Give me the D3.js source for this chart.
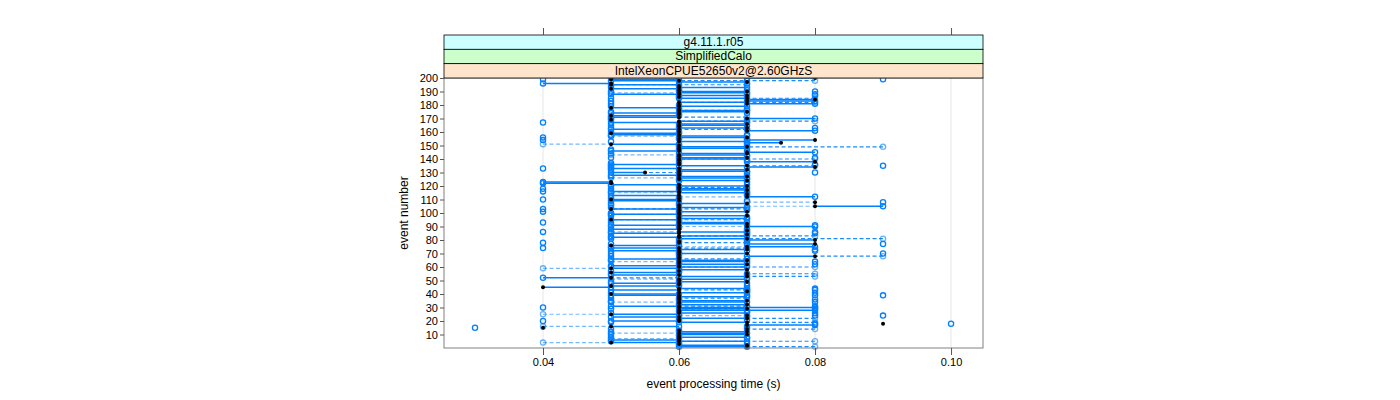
<!DOCTYPE html>
<html><head><meta charset="utf-8">
<script src="https://cdn.jsdelivr.net/npm/d3@7"></script>
<style>body{margin:0;background:#fff}svg text{font-family:"Liberation Sans",Arial,Helvetica,sans-serif}</style>
</head><body><svg id="c" width="1400" height="400"></svg>
<script>
const stripLabels = ["g4.11.1.r05", "SimplifiedCalo", "IntelXeonCPUE52650v2@2.60GHzS"];
const xTicks = [0.04, 0.06, 0.08, 0.10];
const yTicks = [10,20,30,40,50,60,70,80,90,100,110,120,130,140,150,160,170,180,190,200];
// event number i+1 -> processing time (s) of each run
const run1 = [.06,.06,.06,.06,.07,.05,.06,.07,.06,.06, .07,.06,.06,.07,null,.06,.08,null,.06,.05,
.06,.06,.05,.07,.06,.07,.06,.08,.06,.08, .05,.06,.06,.07,.06,.06,.06,.07,.05,.06,
.07,.07,.05,.07,.05,.06,.06,.05,.06,.06, .07,.04,.06,.05,.07,.06,.06,.06,.06,.07,
.05,.06,.06,.07,.06,.05,.06,.07,.06,.06, .06,.05,.06,.05,.08,.06,.07,.06,.06,.07,
.06,.05,.07,.07,.05,.07,.07,.05,.06,.08, .05,.06,.07,.06,.06,.07,.06,.06,.05,.06,
.06,.06,.06,.07,.09,.06,.06,null,.05,.06, .06,.08,.05,.07,.07,.05,.06,.07,.06,.06,
.05,.04,.04,.06,.06,.07,.06,.05,.06,.05, .07,.06,.05,.07,.06,.05,.06,.07,.06,.07,
.06,.06,.07,.06,.08,.05,.06,.07,.06,.06, .06,.07,.07,.07,.06,.06,.07,.05,.06,.06,
.08,.05,.06,.06,.07,.06,.05,.07,.05,.08, .05,.06,.06,.05,.06,.07,.06,.06,.07,.06,
.08,.07,.08,.07,.06,.06,.06,.05,.07,.06, .06,.06,.07,.06,.06,.04,.06,.05,.06,.07];
const run2 = [.07,.07,.06,.05,.06,.06,.06,.06,.06,.07, .06,.07,.06,.07,.04,.05,.07,.09,.07,.06,
.06,.07,.06,.07,.05,.06,.06,.06,.07,.06, .06,.07,.06,.06,.07,.06,.06,.06,.06,.05,
.06,.07,.06,.06,.04,.05,.06,.06,.07,.06, .06,.05,.07,.06,.07,.05,.06,.07,.05,.06,
.06,.07,.06,.06,.07,.06,.06,.08,.06,.07, .06,.06,.07,.06,.07,.05,.08,.06,.06,.08,
.07,.06,.06,.07,.06,.06,.07,.06,.06,.07, .06,.07,.06,.06,.05,.06,.06,.07,.06,.06,
.07,.06,.05,.06,.08,.06,.07,.08,.06,.05, .06,.07,.06,.07,.06,.06,.07,.06,.06,.07,
.06,.05,.05,.07,.06,.06,.07,.06,.06,.055, .06,.07,.06,.08,.07,.06,.06,.08,.06,.06,
.07,.06,.06,.07,.07,.06,.06,.06,.07,.06, .05,.075,.06,.08,.06,.07,.06,.06,.05,.06,
.07,.06,.07,.06,.06,.07,.06,.06,.05,.07, .06,.05,.06,.06,.07,.06,.06,.05,.06,.06,
.07,.06,.07,.08,.07,.06,.07,.06,.06,.07, .06,.05,.06,.06,.05,.05,.07,.06,.05,.08];
const run3 = [.08,null,null,.04,.08,null,.05,null,null,null, .05,null,null,.08,null,.04,null,null,.08,null,
null,.08,null,.06,.04,null,null,.07,null,null, .07,null,null,.05,null,null,.07,null,null,null,
null,null,.07,null,null,null,null,null,null,null, .05,.06,.08,null,.08,null,null,null,.04,.08,
null,null,null,.05,null,.07,null,.09,null,null, null,null,null,.07,.06,null,null,.07,null,null,
.09,null,.08,null,null,.05,null,null,null,.06, null,null,null,null,.07,null,null,null,.05,null,
null,null,.07,null,.07,null,null,.07,null,null, null,.06,null,null,.05,null,null,null,.07,null,
null,null,null,null,null,.05,null,null,null,.06, null,null,null,null,.08,null,null,null,null,.08,
null,null,.05,null,null,null,null,null,.09,null, .04,null,null,null,null,null,.05,null,null,null,
null,.07,null,null,null,null,null,.08,null,null, .07,null,null,null,null,.07,null,null,null,null,
null,.08,null,null,.08,null,null,null,.05,null, null,null,null,null,.07,null,null,.08,null,null];
const run4 = [.07,null,.07,null,.05,null,.07,.05,null,.05, null,.05,null,.05,null,.07,null,null,.05,null,
.07,null,.07,null,null,.05,.07,null,.05,null, .07,null,null,.05,.05,null,.05,null,.07,null,
.05,null,.07,null,null,.07,null,.07,.05,null, null,.07,null,.07,.05,null,.05,null,null,.05,
.07,null,.07,null,.05,.07,null,.05,null,.05, null,.07,null,.07,.05,null,.05,null,.07,null,
.05,null,.05,null,.07,.05,null,.07,null,.05, .07,null,.05,null,.05,null,.07,.05,null,.05,
null,.07,null,.05,null,.05,.05,null,.07,null, .05,null,.07,null,.05,.07,null,.05,null,.05,
.07,null,.07,null,.07,null,.05,.07,null,.07, null,.05,null,.05,.05,null,.05,null,.07,null,
.05,.07,null,.05,null,.07,.05,null,.07,null, .07,null,.05,null,.07,null,.05,.07,null,.05,
null,.07,.05,null,.05,null,.07,null,.07,.05, null,.05,null,.07,.05,null,.07,null,.05,null,
.05,null,.05,null,.05,.07,null,.07,null,.05, .07,null,.05,null,.05,.07,null,.07,null,.05];
// single unconnected measurements
const extraEvent = [15,18,18,20,24,24,26,29,30,31,34,36,39,39,41,43,44,62,64,70,72,73,74,77,78,85,86,86,91,93,101,103,108,110,116,118,130,133,135,136,141,154,156,163,167,187,188,190,199,199];
const extraTime  = [.03,.10,.08,.04,.08,.09,.08,.08,.04,.08,.08,.08,.08,.09,.08,.08,.08,.08,.08,.09,.08,.08,.04,.09,.04,.08,.04,.08,.08,.04,.04,.04,.09,.04,.04,.04,.08,.04,.09,.08,.08,.04,.04,.08,.04,.08,.08,.08,.04,.09];
const events = d3.range(1, run1.length + 1);

const svg = d3.select("#c");
const L = 444, R = 983, T = 78, B = 348;
const x = d3.scaleLinear().domain([0.02544, 0.1047]).range([L, R]);
const y = d3.scaleLinear().domain([0, 200]).range([B, T]);
const blue = "#0080ff";

// grid
svg.append("g").selectAll("line").data(xTicks).join("line")
  .attr("x1", d => x(d)).attr("x2", d => x(d)).attr("y1", T).attr("y2", B)
  .attr("stroke", "#e6e6e6").attr("stroke-width", 1);

const g = svg.append("g");
const rows = events.map((e, i) => ({e, a: run1[i], b: run2[i], c: run3[i], d: run4[i]}));
// dashed
g.append("g").selectAll("line").data(rows.filter(d => d.c != null && d.c !== d.b)).join("line")
  .attr("x1", d => x(d.c)).attr("x2", d => x(d.b)).attr("y1", d => y(d.e)).attr("y2", d => y(d.e))
  .attr("stroke", blue).attr("stroke-width", 1.2).attr("stroke-dasharray", "4,2.5")
  .attr("stroke-opacity", d => d.c < d.b ? 0.55 : 0.9);
// solid
g.append("g").selectAll("line").data(rows.filter(d => d.a != null && d.a !== d.b)).join("line")
  .attr("x1", d => x(d.a)).attr("x2", d => x(d.b)).attr("y1", d => y(d.e)).attr("y2", d => y(d.e))
  .attr("stroke", blue).attr("stroke-width", 1.5);
// light open
g.append("g").selectAll("circle").data(rows.filter(d => d.c != null)).join("circle")
  .attr("cx", d => x(d.c)).attr("cy", d => y(d.e)).attr("r", 2.6)
  .attr("fill", "none").attr("stroke", blue).attr("stroke-width", 1.3).attr("stroke-opacity", 0.6);
// open
g.append("g").selectAll("circle").data(rows.filter(d => d.d != null)).join("circle")
  .attr("cx", d => x(d.d)).attr("cy", d => y(d.e)).attr("r", 2.6)
  .attr("fill", "none").attr("stroke", blue).attr("stroke-width", 1.3);
g.append("g").selectAll("circle").data(rows.filter(d => d.a != null)).join("circle")
  .attr("cx", d => x(d.a)).attr("cy", d => y(d.e)).attr("r", 2.6)
  .attr("fill", "none").attr("stroke", blue).attr("stroke-width", 1.3);
g.append("g").selectAll("circle").data(extraEvent.map((e, i) => ({e, t: extraTime[i]}))).join("circle")
  .attr("cx", d => x(d.t)).attr("cy", d => y(d.e)).attr("r", 2.6)
  .attr("fill", "none").attr("stroke", blue).attr("stroke-width", 1.3);
// filled
g.append("g").selectAll("circle").data(rows).join("circle")
  .attr("cx", d => x(d.b)).attr("cy", d => y(d.e)).attr("r", 2.0).attr("fill", "#000");

// panel border
svg.append("rect").attr("x", L).attr("y", T).attr("width", R - L).attr("height", B - T)
  .attr("fill", "none").attr("stroke", "#808080").attr("stroke-width", 1);

// strips
const stripCols = ["#ccffff", "#ccffcc", "#ffe5cc"];
const sTop = 35, sH = 14.33;
stripLabels.forEach((lab, i) => {
  svg.append("rect").attr("x", L).attr("y", sTop + i * sH).attr("width", R - L).attr("height", sH)
    .attr("fill", stripCols[i]).attr("stroke", "#000").attr("stroke-width", 0.8);
  svg.append("text").attr("x", (L + R) / 2).attr("y", sTop + i * sH + sH / 2 + 4)
    .attr("text-anchor", "middle").attr("font-size", 12).text(lab);
});

// axes
const xb = svg.append("g").attr("transform", `translate(0,${B})`)
  .call(d3.axisBottom(x).tickValues(xTicks).tickFormat(d3.format(".2f")).tickSize(7).tickPadding(3));
const xt = svg.append("g").attr("transform", `translate(0,${sTop})`)
  .call(d3.axisTop(x).tickValues(xTicks).tickFormat("").tickSize(7));
const yl = svg.append("g").attr("transform", `translate(${L},0)`)
  .call(d3.axisLeft(y).tickValues(yTicks).tickSize(4).tickPadding(2));
[xb, xt, yl].forEach(a => {
  a.select(".domain").remove();
  a.selectAll("line").attr("stroke", "#555");
  a.selectAll("text").attr("font-size", 11).attr("font-family", "Liberation Sans, Arial, sans-serif").attr("fill", "#000");
});

svg.append("text").attr("x", (L + R) / 2).attr("y", 388).attr("text-anchor", "middle")
  .attr("font-size", 12).text("event processing time (s)");
svg.append("text").attr("transform", `translate(408,${(T + B) / 2}) rotate(-90)`)
  .attr("text-anchor", "middle").attr("font-size", 12).text("event number");
</script></body></html>
